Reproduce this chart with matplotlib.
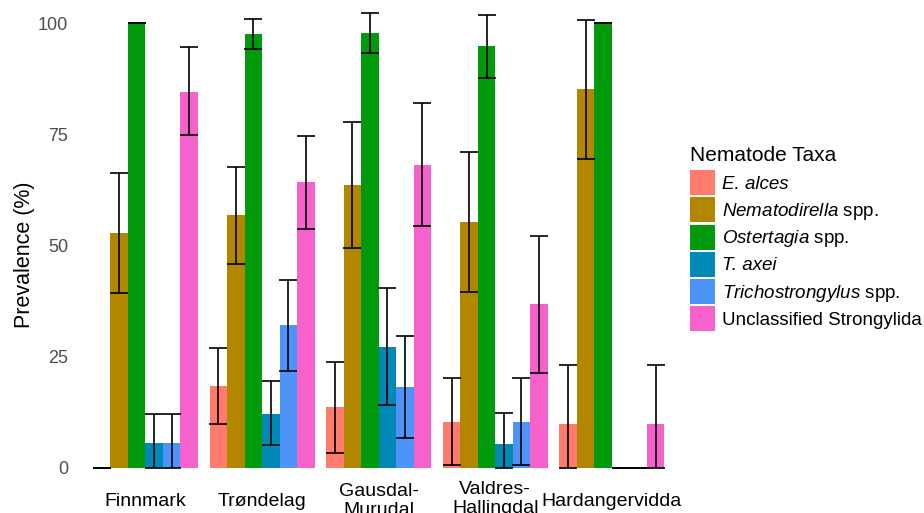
import matplotlib
matplotlib.use("Agg")
import matplotlib.pyplot as plt
import matplotlib.transforms as mtransforms
from matplotlib.patches import Patch
import numpy as np

plt.rcParams['font.family'] = ['Liberation Sans', 'DejaVu Sans']
plt.rcParams['mathtext.fontset'] = 'custom'
plt.rcParams['mathtext.rm'] = 'Liberation Sans'
plt.rcParams['mathtext.it'] = 'Liberation Sans:italic'

# ---- data ----
regions = ["Finnmark", "Trøndelag", "Gausdal-\nMurudal", "Valdres-\nHallingdal", "Hardangervidda"]
taxa = ["E. alces", r"$\it{Nematodirella}$ spp.", r"$\it{Ostertagia}$ spp.",
        "T. axei", r"$\it{Trichostrongylus}$ spp.", "Unclassified Strongylida"]
italic_full = [True, False, False, True, False, False]
colors = ["#FF7B6B", "#B38600", "#009A0C", "#0088B7", "#4C93FA", "#F661CC"]

e_alces = [0, 18.4, 13.6, 10.4, 9.9]
e_alces_lo = [0, 10.0, 3.4, 0.7, 0]
e_alces_hi = [0, 27.0, 23.8, 20.2, 23.1]

nematodirella = [52.7, 56.8, 63.6, 55.3, 85.1]
nematodirella_lo = [39.3, 45.9, 49.4, 39.5, 69.4]
nematodirella_hi = [66.4, 67.6, 77.8, 71.1, 100.7]

ostertagia = [100, 97.5, 97.7, 94.8, 100]
ostertagia_lo = [100, 94.2, 93.3, 87.6, 100]
ostertagia_hi = [100, 100.9, 102.2, 101.9, 100]

t_axei = [5.7, 12.2, 27.2, 5.3, 0]
t_axei_lo = [0, 5.1, 14.1, 0, 0]
t_axei_hi = [12.1, 19.5, 40.4, 12.4, 0]

trichostrongylus = [5.7, 32.1, 18.2, 10.4, 0]
trichostrongylus_lo = [0, 21.9, 6.8, 0.7, 0]
trichostrongylus_hi = [12.1, 42.2, 29.6, 20.2, 0]

unclassified = [84.6, 64.2, 68.2, 36.8, 9.9]
unclassified_lo = [74.8, 53.7, 54.4, 21.4, 0]
unclassified_hi = [94.5, 74.6, 82.0, 52.1, 23.1]

values = [e_alces, nematodirella, ostertagia, t_axei, trichostrongylus, unclassified]
lows = [e_alces_lo, nematodirella_lo, ostertagia_lo, t_axei_lo, trichostrongylus_lo, unclassified_lo]
highs = [e_alces_hi, nematodirella_hi, ostertagia_hi, t_axei_hi, trichostrongylus_hi, unclassified_hi]

yticks = [0, 25, 50, 75, 100]

# ---- figure ----
W, H = 924, 513
fig = plt.figure(figsize=(W / 100, H / 100), dpi=100)
ylo, yhi = -5, 107
px_per = 4.45
bottom_px = 468 + (0 - ylo) * px_per
top_px = 23 - (yhi - 100) * px_per
ax = fig.add_axes([75.5 / W, (H - bottom_px) / H, 606.3 / W, (bottom_px - top_px) / H])

n = len(taxa)
dodge = 0.9
bw = dodge / n
x = np.arange(1, len(regions) + 1)
for i in range(n):
    xi = x - dodge / 2 + bw * (i + 0.5)
    ax.bar(xi, values[i], width=bw, color=colors[i], linewidth=0, zorder=2)
for i in range(n):
    xi = x - dodge / 2 + bw * (i + 0.5)
    v = np.array(values[i])
    lo = np.array(lows[i])
    hi = np.array(highs[i])
    ax.errorbar(xi, v, yerr=[v - lo, hi - v], fmt='none', ecolor='black',
                elinewidth=1.2, capsize=6.3, capthick=1.2, zorder=3)

ax.set_xlim(0.4, 5.6)
ax.set_ylim(ylo, yhi)
ax.set_yticks(yticks)
ax.set_yticklabels([str(t) for t in yticks])
ax.tick_params(axis='y', length=0, pad=5.4, labelsize=13, labelcolor='#4D4D4D')
ax.set_xticks([])
for s in ax.spines.values():
    s.set_visible(False)

trans = mtransforms.blended_transform_factory(ax.transData, fig.transFigure)
label_y_px = [502, 502, 501, 499, 502]
for xi, lab, ypx in zip(x, regions, label_y_px):
    ax.text(xi, (H - ypx) / H, lab, transform=trans, ha='center', va='center',
            fontsize=14, color='black', multialignment='center', linespacing=1.15)

fig.text(25 / W, (H - 255) / H, "Prevalence (%)", rotation=90, ha='center', va='center',
         fontsize=15.5, color='black')

handles = [Patch(facecolor=c, edgecolor='none') for c in colors]
leg = fig.legend(handles, taxa, loc='upper left', bbox_to_anchor=(690 / W, 1 - 145.5 / H),
                 frameon=False, fontsize=13.5, title="Nematode Taxa", title_fontsize=15,
                 handlelength=1.333, handleheight=1.674, handletextpad=0.37,
                 labelspacing=0.12, borderpad=0, borderaxespad=0)
leg._legend_box.align = "left"
leg._legend_box.sep = 4.0
for t, it in zip(leg.get_texts(), italic_full):
    if it:
        t.set_fontstyle('italic')

fig.savefig("out.png", dpi=100)
